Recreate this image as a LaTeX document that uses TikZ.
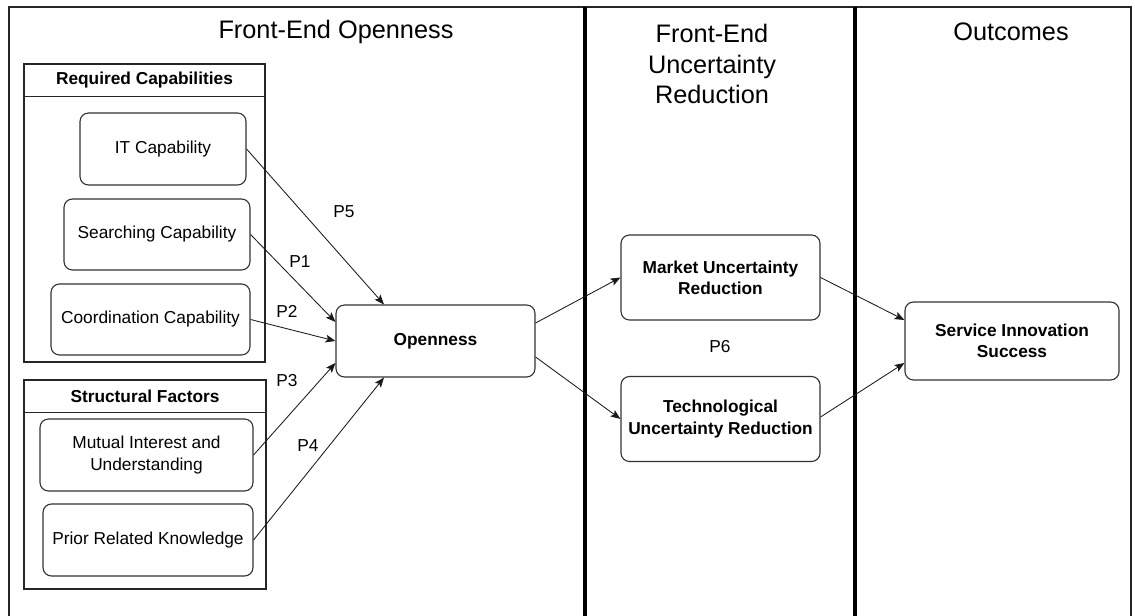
\documentclass[tikz,border=0pt]{standalone}
\usepackage{fontspec}
\setmainfont{Liberation Sans}
\usepackage{tikz}
\usetikzlibrary{positioning,calc,arrows.meta}

\newcommand{\nodetxt}{\fontsize{12.3}{15}\selectfont}
\newcommand{\titletxt}{\fontsize{18}{22}\selectfont}

\tikzset{
    sz/.style 2 args={minimum width=#1*0.025cm, minimum height=#2*0.025cm},
    box/.style={draw=black!80, line width=0.8pt, rounded corners=6pt, align=center, inner sep=2pt, font=\nodetxt},
    bbox/.style={box, font=\nodetxt\bfseries},
    grp/.style={draw=black!85, line width=0.8pt, inner sep=0pt},
    head/.style={font=\nodetxt\bfseries},
    lbl/.style={font=\nodetxt},
    ttl/.style={font=\titletxt, align=center},
    arr/.style={-{Stealth[length=7pt,width=5.5pt,inset=1.5pt]}, line width=0.6pt, black!90}
}

\begin{document}
\begin{tikzpicture}[x=0.025cm, y=-0.025cm]
    \useasboundingbox (0,0) rectangle (1135,616);

    % Frame and lane separators
    \draw[line width=1pt, black!85] (9,616) -- (9,7) -- (1131,7) -- (1131,616);
    \foreach \x in {585, 855} {
        \draw[line width=3pt] (\x,7) -- (\x,616);
    }

    % Lane titles
    \node[ttl] (ttlopen) at (336,32) {Front-End Openness};
    \node[ttl] (ttlunc) at (712,64) {Front-End\\Uncertainty\\Reduction};
    \node[ttl] (ttlout) at (1011,32) {Outcomes};

    % Containers
    \node[grp, sz={241}{298}] (reqcap) at (144.5,213) {};
    \draw[line width=0.8pt, black!85] ($(reqcap.north west)+(0,33)$) -- ($(reqcap.north east)+(0,33)$);
    \node[head] (reqhead) at (144.5,80) {Required Capabilities};

    \node[grp, sz={242}{209}] (structf) at (145,484.5) {};
    \draw[line width=0.8pt, black!85] ($(structf.north west)+(0,33)$) -- ($(structf.north east)+(0,33)$);
    \node[head] (structhead) at (145,396) {Structural Factors};

    % Antecedents
    \node[box, sz={166}{72}] (itcap) at (163,149) {IT Capability};
    \node[box, sz={186}{71}] (srch) at (157,234.5) {Searching Capability};
    \node[box, sz={199}{71}] (coord) at (150.5,319.5) {Coordination Capability};
    \node[box, sz={213}{72}] (mutual) at (146.5,455) {Mutual Interest and\\Understanding};
    \node[box, sz={210}{72}] (prior) at (148,540) {Prior Related Knowledge};

    % Openness
    \node[bbox, sz={199}{72}] (open) at (435.5,341) {Openness};

    % Uncertainty reduction
    \node[bbox, sz={199}{85}] (market) at (720.5,277.5) {Market Uncertainty\\Reduction};
    \node[bbox, sz={199}{85}] (tech) at (720.5,419) {Technological\\Uncertainty Reduction};

    % Outcome
    \node[bbox, sz={214}{78}] (success) at (1012,341) {Service Innovation\\Success};

    % Propositions into openness
    \draw[arr] (itcap.east) -- ($(open.north)+(-51.5,0)$);
    \foreach \src/\dy in {srch/-19, coord/0, mutual/22} {
        \draw[arr] (\src.east) -- ($(open.west)+(0,\dy)$);
    }
    \draw[arr] (prior.east) -- ($(open.south)+(-51.5,0)$);

    % Openness to uncertainty reduction
    \draw[arr] ($(open.east)+(0,-18)$) -- (market.west);
    \draw[arr] ($(open.east)+(0,16)$) -- (tech.west);

    % Uncertainty reduction to outcome
    \draw[arr] (market.east) -- ($(success.west)+(0,-21)$);
    \draw[arr] ($(tech.east)+(0,-2)$) -- ($(success.west)+(0,22)$);

    % Labels
    \node[lbl] (p5) at (344,212) {P5};
    \node[lbl] (p1) at (300,262) {P1};
    \node[lbl] (p2) at (287,311) {P2};
    \node[lbl] (p3) at (287,381) {P3};
    \node[lbl] (p4) at (308,446) {P4};
    \node[lbl] (p6) at (720,347) {P6};
\end{tikzpicture}
\end{document}
